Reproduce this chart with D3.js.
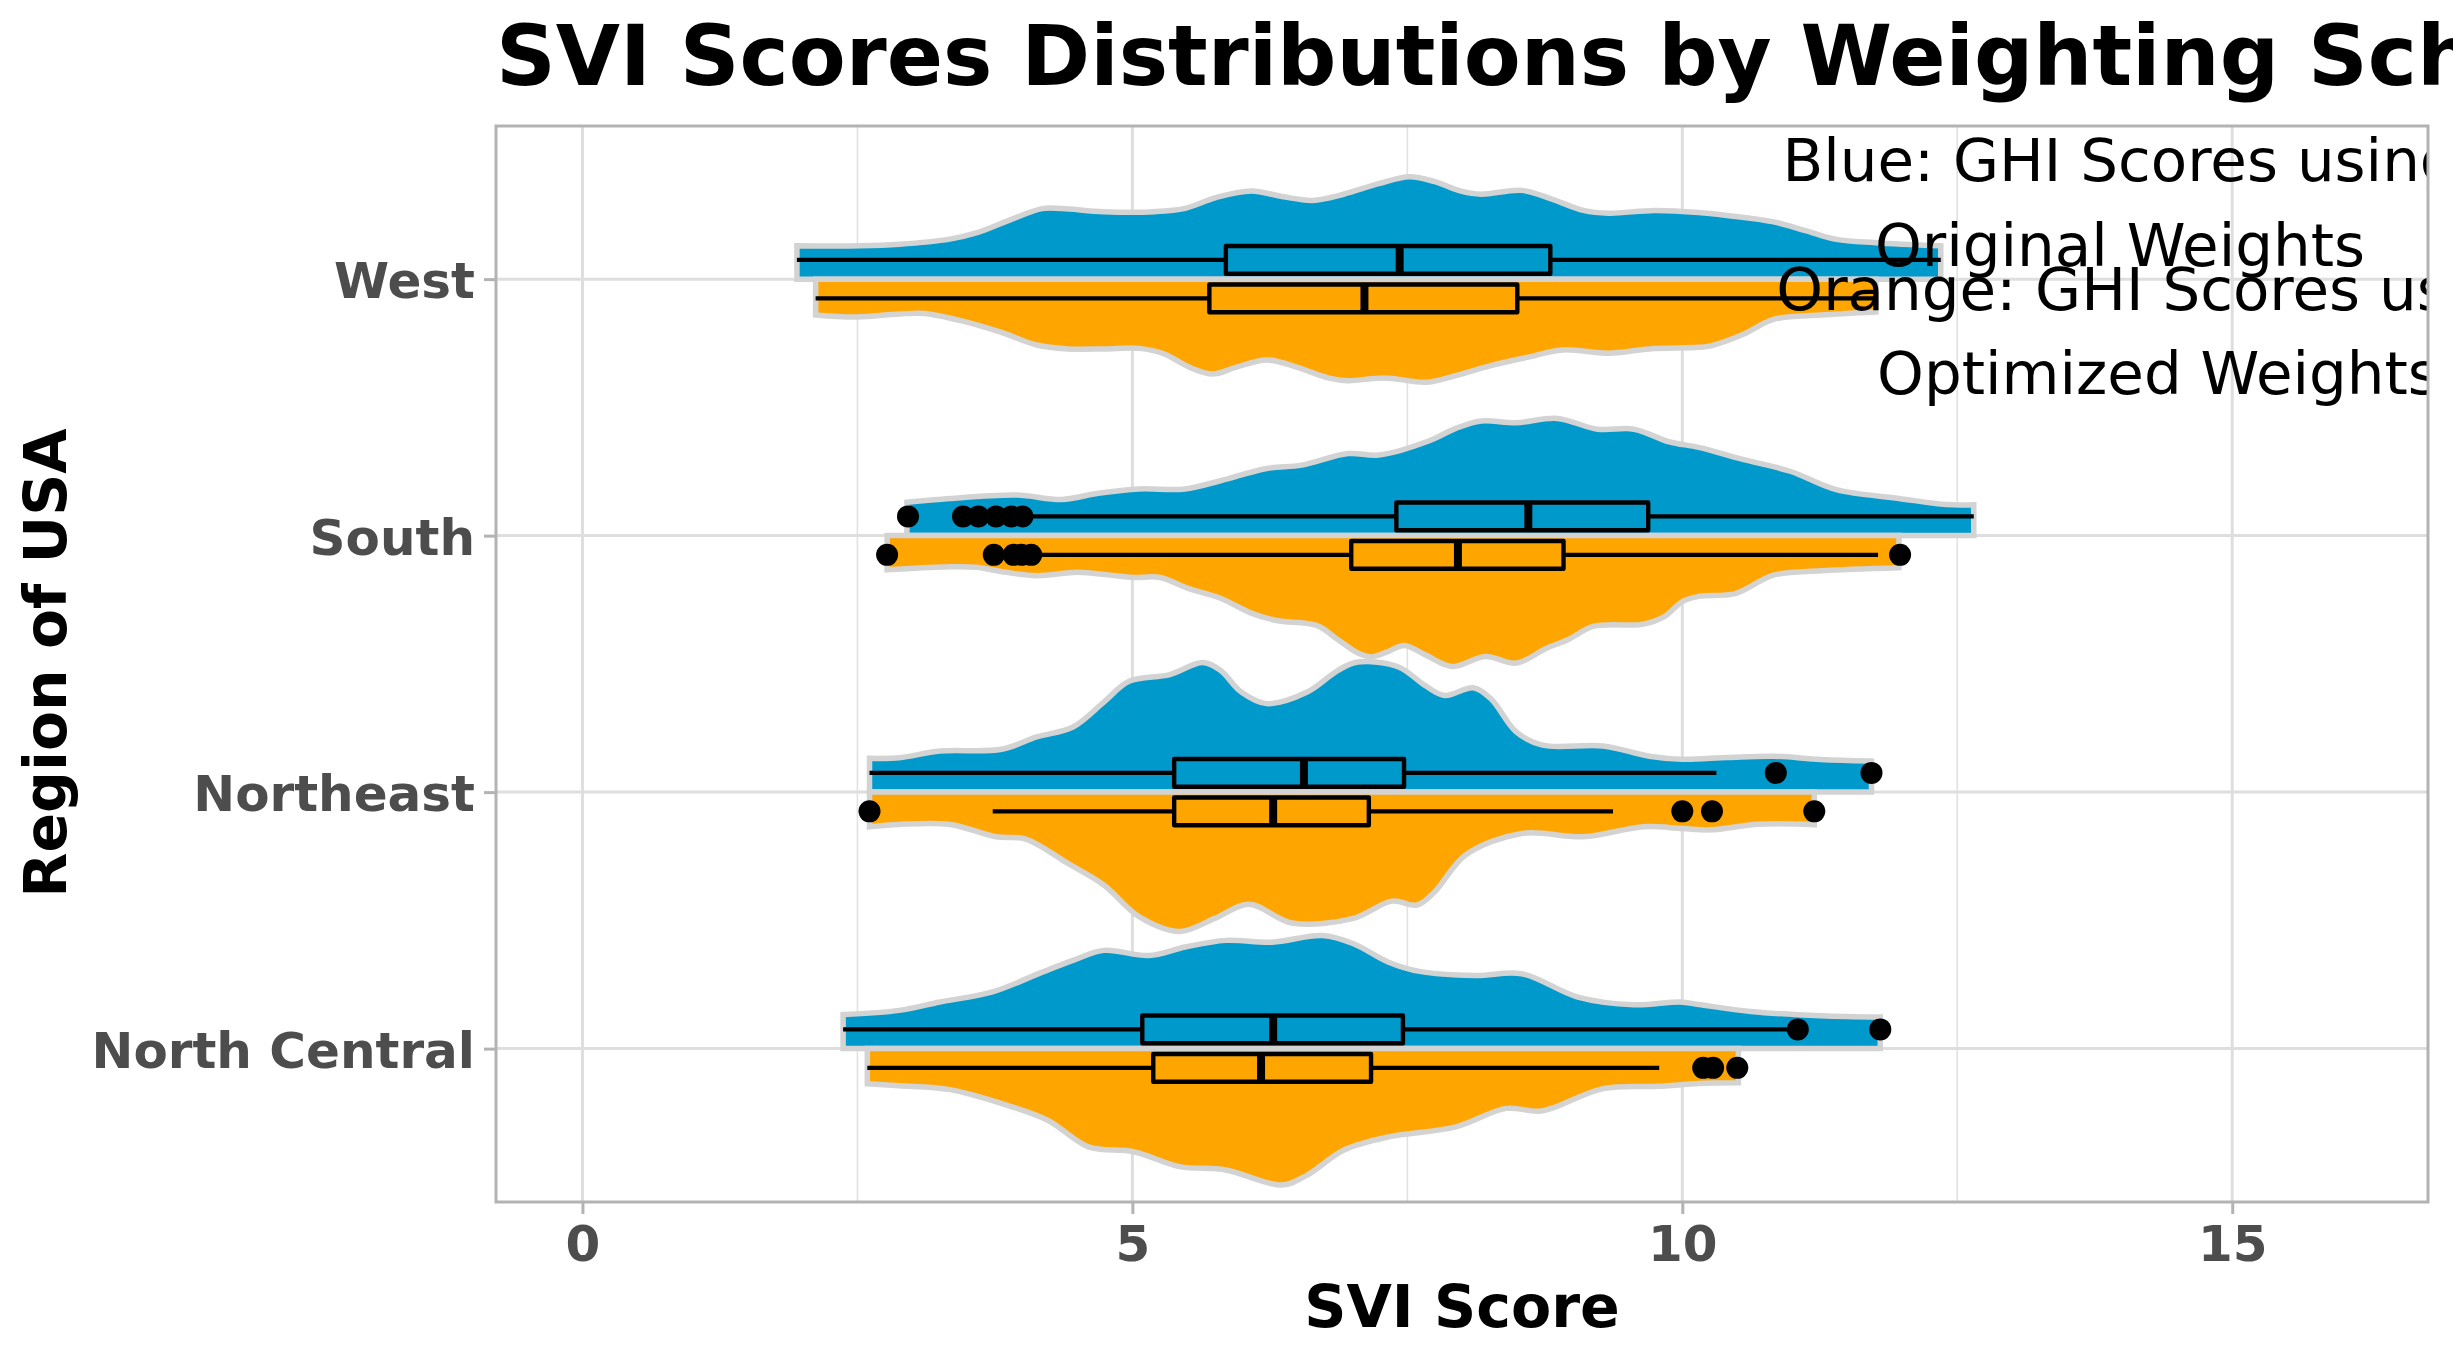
<!DOCTYPE html>
<html><head><meta charset="utf-8">
<script src="https://cdn.jsdelivr.net/npm/d3@7"></script>
<style>html,body{margin:0;padding:0;background:#fff;overflow:hidden}svg{display:block}text{font-family:"DejaVu Sans"}</style>
</head><body><div id="chart"></div>
<script>
const chartTitle = "SVI Scores Distributions by Weighting Scheme";
const xTitle = "SVI Score";
const yTitle = "Region of USA";
const regions = ["North Central", "Northeast", "South", "West"];
const xTicks = [0, 5, 10, 15];
const xMinor = [2.5, 7.5, 12.5];
const blueNote = ["Blue: GHI Scores using", "Original Weights"];
const orangeNote = ["Orange: GHI Scores using", "Optimized Weights"];

// [score, density]
const westOriginal = [[1.95,.13],[2.52,.13],[2.88,.136],[3.34,.156],[3.58,.18],[3.9,.233],[4.18,.275],[4.36,.275],[4.74,.263],[5.2,.263],[5.48,.276],[5.76,.318],[6.08,.344],[6.36,.322],[6.64,.307],[6.92,.331],[7.24,.372],[7.52,.399],[7.75,.38],[7.98,.344],[8.17,.331],[8.54,.346],[8.82,.311],[9.1,.268],[9.33,.257],[9.75,.268],[10.15,.26],[10.41,.248],[10.83,.223],[11.12,.189],[11.4,.155],[11.76,.142],[12.35,.13]];
const westOptimized = [[2.12,.14],[2.49,.148],[2.88,.136],[3.11,.134],[3.44,.162],[3.81,.208],[4.13,.257],[4.41,.272],[4.74,.272],[5.06,.27],[5.29,.292],[5.52,.344],[5.73,.37],[5.94,.344],[6.22,.315],[6.5,.344],[6.78,.385],[6.96,.396],[7.29,.385],[7.68,.402],[7.94,.376],[8.26,.337],[8.59,.305],[8.91,.276],[9.33,.289],[9.7,.272],[10.15,.266],[10.26,.26],[10.55,.216],[10.83,.157],[11.26,.14],[11.76,.128]];
const southOriginal = [[2.95,.13],[3.34,.145],[3.95,.158],[4.36,.141],[4.69,.165],[5.06,.182],[5.48,.182],[5.8,.214],[6.22,.262],[6.54,.275],[6.96,.32],[7.24,.314],[7.7,.37],[7.94,.418],[8.17,.447],[8.49,.44],[8.86,.457],[9.23,.415],[9.56,.415],[9.88,.366],[10.15,.344],[10.55,.297],[10.98,.251],[11.4,.179],[11.97,.145],[12.4,.121],[12.65,.12]];
const southOptimized = [[2.77,.133],[3.3,.122],[3.58,.123],[3.85,.143],[4.13,.156],[4.5,.143],[4.78,.153],[5.01,.163],[5.25,.163],[5.52,.208],[5.8,.244],[6.08,.302],[6.31,.331],[6.68,.351],[6.87,.406],[7.05,.458],[7.17,.473],[7.33,.451],[7.47,.428],[7.66,.464],[7.91,.51],[8.21,.471],[8.49,.497],[8.77,.438],[8.96,.406],[9.19,.354],[9.65,.345],[9.84,.315],[10,.257],[10.15,.237],[10.48,.226],[10.83,.154],[11.26,.137],[11.97,.125]];
const northeastOriginal = [[2.61,.132],[2.88,.134],[3.25,.16],[3.81,.167],[4.13,.215],[4.46,.254],[4.74,.351],[4.97,.432],[5.34,.458],[5.64,.505],[5.8,.475],[5.99,.39],[6.22,.345],[6.59,.39],[6.87,.475],[7.05,.507],[7.42,.488],[7.66,.416],[7.84,.377],[8.1,.407],[8.26,.364],[8.49,.235],[8.73,.183],[9.28,.18],[9.7,.14],[10,.128],[10.41,.135],[10.83,.14],[11.26,.127],[11.72,.121]];
const northeastOptimized = [[2.61,.135],[2.88,.126],[3.34,.126],[3.76,.174],[4.03,.183],[4.41,.277],[4.74,.362],[5.06,.485],[5.43,.543],[5.75,.492],[6.06,.437],[6.45,.51],[7.01,.492],[7.36,.425],[7.59,.44],[7.75,.388],[8.03,.245],[8.54,.161],[9.1,.174],[9.65,.135],[10,.142],[10.26,.147],[10.69,.125],[11.2,.127]];
const northCentralOriginal = [[2.37,.133],[2.88,.149],[3.25,.182],[3.72,.22],[4.18,.298],[4.46,.344],[4.74,.383],[5.15,.363],[5.48,.396],[5.85,.422],[6.27,.415],[6.73,.441],[7.01,.409],[7.33,.337],[7.61,.301],[8.12,.285],[8.54,.292],[9.05,.201],[9.56,.171],[9.98,.182],[10.15,.172],[10.62,.145],[11.26,.128],[11.8,.123]];
const northCentralOptimized = [[2.59,.137],[2.88,.145],[3.34,.16],[3.81,.214],[4.23,.279],[4.6,.383],[5.01,.402],[5.43,.46],[5.85,.473],[6.36,.532],[6.59,.493],[6.92,.396],[7.33,.344],[7.94,.305],[8.4,.233],[8.72,.243],[9.28,.156],[9.79,.147],[10.15,.136],[10.51,.133]];

// [low whisker, q1, median, q3, high whisker], order as regions
const boxOriginal = [[2.37,5.09,6.28,7.46,10.96],[2.61,5.38,6.56,7.47,10.31],[4.0,7.4,8.6,9.69,12.65],[1.95,5.85,7.43,8.8,12.35]];
const boxOptimized = [[2.59,5.19,6.17,7.17,9.79],[3.73,5.38,6.28,7.15,9.37],[4.08,6.99,7.96,8.92,11.78],[2.12,5.7,7.11,8.5,11.76]];
const outliersOriginal = [[11.05,11.8],[10.85,11.72],[2.96,3.46,3.6,3.76,3.9,4.0],[]];
const outliersOptimized = [[10.19,10.28,10.5],[2.61,10.0,10.27,11.2],[2.77,3.74,3.92,3.99,4.08,11.98],[]];

const violinsOriginal = [northCentralOriginal, northeastOriginal, southOriginal, westOriginal];
const violinsOptimized = [northCentralOptimized, northeastOptimized, southOptimized, westOptimized];

const W = 2453, H = 1359;
const panel = {l: 496, r: 2428, t: 126, b: 1202};
const BLUE = "#0099cc", ORANGE = "#ffa500", OUTLINE = "#d3d3d3";
const BOX_OFFSET = 0.075, BOX_HALF = 0.054;

const x = d3.scaleLinear().domain([-0.786, 16.78]).range([panel.l, panel.r]);
const y = d3.scaleLinear().domain([0.402, 4.597]).range([panel.b, panel.t]);

const svg = d3.select("#chart").append("svg").attr("width", W).attr("height", H).attr("viewBox", `0 0 ${W} ${H}`);
svg.append("defs").append("clipPath").attr("id", "panel-clip").append("rect")
  .attr("x", panel.l).attr("y", panel.t).attr("width", panel.r - panel.l).attr("height", panel.b - panel.t);

// Grid
const grid = svg.append("g");
grid.selectAll("line.minor").data(xMinor).join("line").attr("class", "minor")
  .attr("x1", d => x(d)).attr("x2", d => x(d)).attr("y1", panel.t).attr("y2", panel.b)
  .attr("stroke", "#e2e2e2").attr("stroke-width", 1.6);
grid.selectAll("line.mx").data(xTicks).join("line").attr("class", "mx")
  .attr("x1", d => x(d)).attr("x2", d => x(d)).attr("y1", panel.t).attr("y2", panel.b)
  .attr("stroke", "#dedede").attr("stroke-width", 3);
grid.selectAll("line.my").data(regions).join("line").attr("class", "my")
  .attr("x1", panel.l).attr("x2", panel.r).attr("y1", (d, i) => y(i + 1)).attr("y2", (d, i) => y(i + 1))
  .attr("stroke", "#dedede").attr("stroke-width", 3);

// Violins
const halfArea = (i, sign) => d3.area()
  .x(d => x(d[0]))
  .y0(y(i + 1))
  .y1(d => y(i + 1 + sign * d[1]))
  .curve(d3.curveCatmullRom.alpha(0.5));

const marks = svg.append("g");
regions.forEach((r, i) => {
  marks.append("path").datum(violinsOriginal[i]).attr("d", halfArea(i, 1))
    .attr("fill", BLUE).attr("stroke", OUTLINE).attr("stroke-width", 5.5).attr("stroke-linejoin", "miter");
  marks.append("path").datum(violinsOptimized[i]).attr("d", halfArea(i, -1))
    .attr("fill", ORANGE).attr("stroke", OUTLINE).attr("stroke-width", 5.5).attr("stroke-linejoin", "miter");
});

// Boxes
function drawBox(stats, i, sign, fill) {
  const c = i + 1 + sign * BOX_OFFSET;
  const g = marks.append("g");
  const [lo, q1, med, q3, hi] = stats;
  [[lo, q1], [q3, hi]].forEach(w => g.append("line")
    .attr("x1", x(w[0])).attr("x2", x(w[1])).attr("y1", y(c)).attr("y2", y(c))
    .attr("stroke", "#000").attr("stroke-width", 4.4));
  g.append("rect").attr("x", x(q1)).attr("width", x(q3) - x(q1))
    .attr("y", y(c + BOX_HALF)).attr("height", y(c - BOX_HALF) - y(c + BOX_HALF))
    .attr("fill", fill).attr("stroke", "#000").attr("stroke-width", 4.4).attr("stroke-linejoin", "round");
  g.append("line").attr("x1", x(med)).attr("x2", x(med)).attr("y1", y(c + BOX_HALF)).attr("y2", y(c - BOX_HALF))
    .attr("stroke", "#000").attr("stroke-width", 8);
}
function drawOutliers(vals, i, sign) {
  const c = i + 1 + sign * BOX_OFFSET;
  marks.append("g").selectAll("circle").data(vals).join("circle")
    .attr("cx", d => x(d)).attr("cy", y(c)).attr("r", 11).attr("fill", "#000");
}
regions.forEach((r, i) => {
  drawBox(boxOriginal[i], i, 1, BLUE);
  drawBox(boxOptimized[i], i, -1, ORANGE);
  drawOutliers(outliersOriginal[i], i, 1);
  drawOutliers(outliersOptimized[i], i, -1);
});

// Annotations, clipped by the panel
const notes = svg.append("g").attr("clip-path", "url(#panel-clip)");
const noteSize = 59.5;
[[blueNote, 2120, [181, 266]], [orangeNote, 2158, [310, 394]]].forEach(([lines, cx, ys]) => {
  lines.forEach((t, k) => notes.append("text").attr("x", cx).attr("y", ys[k])
    .attr("text-anchor", "middle").attr("font-size", noteSize).attr("fill", "#000").text(t));
});

// Panel border
svg.append("rect").attr("x", panel.l).attr("y", panel.t).attr("width", panel.r - panel.l).attr("height", panel.b - panel.t)
  .attr("fill", "none").attr("stroke", "#b3b3b3").attr("stroke-width", 3);

// Axes
const xAxis = svg.append("g").attr("transform", `translate(0,${panel.b})`)
  .call(d3.axisBottom(x).tickValues(xTicks).tickFormat(d3.format("d")).tickSize(12).tickPadding(11));
const yAxis = svg.append("g").attr("transform", `translate(${panel.l},0)`)
  .call(d3.axisLeft(d3.scaleOrdinal().domain(regions).range(regions.map((r, i) => y(i + 1)))).tickSize(12).tickPadding(9));
[xAxis, yAxis].forEach(a => {
  a.select(".domain").remove();
  a.selectAll(".tick line").attr("stroke", "#b3b3b3").attr("stroke-width", 3);
  a.selectAll(".tick text").attr("fill", "#4d4d4d").attr("font-size", 50).attr("font-weight", "bold")
    .attr("font-family", '"DejaVu Sans"');
});
yAxis.selectAll(".tick text").attr("dy", "0.37em");

// Titles
svg.append("text").attr("x", 496).attr("y", 85).attr("font-size", 83).attr("font-weight", "bold").attr("fill", "#000").text(chartTitle);
svg.append("text").attr("x", (panel.l + panel.r) / 2).attr("y", 1327).attr("text-anchor", "middle")
  .attr("font-size", 58.6).attr("font-weight", "bold").attr("fill", "#000").text(xTitle);
svg.append("text").attr("transform", `translate(66,${(panel.t + panel.b) / 2 - 1}) rotate(-90)`).attr("text-anchor", "middle")
  .attr("font-size", 58.4).attr("font-weight", "bold").attr("fill", "#000").text(yTitle);
</script></body></html>
